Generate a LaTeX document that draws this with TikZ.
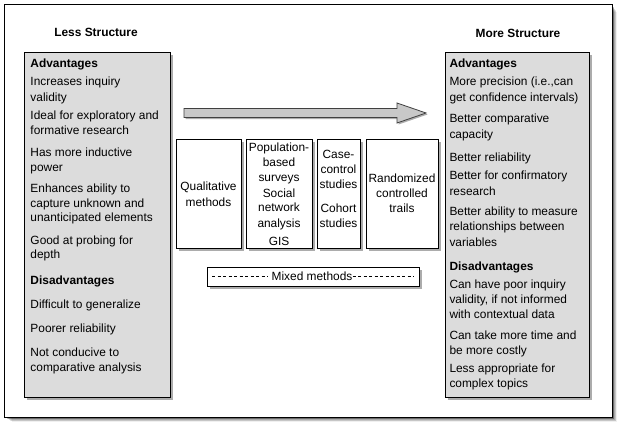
\documentclass[tikz,border=0pt]{standalone}
\usepackage{fontspec}
\setmainfont{Liberation Sans}
\usetikzlibrary{shadows}
\definecolor{boxfill}{RGB}{220,220,220}
\definecolor{shadowgray}{RGB}{172,172,172}
\definecolor{arrowfill}{RGB}{200,200,200}
\tikzset{
  txt/.style={font=\fontsize{11.9}{14}\selectfont, inner sep=0pt, anchor=base west},
  ctxt/.style={font=\fontsize{11.9}{14}\selectfont, inner sep=0pt, anchor=base},
  boxshadow/.style={drop shadow={shadow xshift=3pt, shadow yshift=-3pt, fill=shadowgray, opacity=1}},
  bigbox/.style={draw=black, line width=0.8pt, fill=boxfill, inner sep=0pt, boxshadow},
  methodbox/.style={draw=black, line width=0.8pt, fill=white, inner sep=0pt, boxshadow},
  frame/.style={draw=black, line width=0.8pt, fill=white, inner sep=0pt},
  mixdash/.style={line width=0.7pt, dash pattern=on 3.4pt off 2.1pt},
}
\begin{document}
\begin{tikzpicture}[x=1pt,y=-1pt]
\useasboundingbox (0,0) rectangle (625,431);
% outer frame shadow
\foreach \o/\op in {8/0.06,7/0.08,6/0.10,5/0.14,4/0.18,3/0.22,2/0.25}
  \fill[black, opacity=\op] (4+\o,4+\o) rectangle (612+\o*0.6,417+\o*0.6);
\node[frame, minimum width=608pt, minimum height=413pt] (frame) at (308,210.5) {};

% titles
\node[ctxt, font=\fontsize{11.9}{14}\selectfont\bfseries] (lesst) at (96,37) {Less Structure};
\node[ctxt, font=\fontsize{11.9}{14}\selectfont\bfseries] (moret) at (518,37.5) {More Structure};

% big boxes
\node[bigbox, minimum width=146pt, minimum height=345pt] (leftbox) at (97,224.5) {};
\node[bigbox, minimum width=144pt, minimum height=345pt] (rightbox) at (517,224.5) {};

% left texts
\foreach \yy/\tt [count=\i] in {
  67/{\textbf{Advantages}},
  85/{Increases inquiry},
  101/{validity},
  119/{Ideal for exploratory and},
  134/{formative research},
  156/{Has more inductive},
  171/{power},
  192/{Enhances ability to},
  207/{capture unknown and},
  221/{unanticipated elements},
  244/{Good at probing for},
  258/{depth},
  284/{\textbf{Disadvantages}},
  308/{Difficult to generalize},
  332/{Poorer reliability},
  356/{Not conducive to},
  371/{comparative analysis}}
  \node[txt] (l\i) at (30.3,\yy) {\tt};

% right texts
\foreach \yy/\tt [count=\i] in {
  67/{\textbf{Advantages}},
  85/{More precision (i.e.,can},
  101/{get confidence intervals)},
  122/{Better comparative},
  138/{capacity},
  161/{Better reliability},
  179/{Better for confirmatory},
  195/{research},
  215/{Better ability to measure},
  230/{relationships between},
  246/{variables},
  270/{\textbf{Disadvantages}},
  288/{Can have poor inquiry},
  303/{validity, if not informed},
  318/{with contextual data},
  339/{Can take more time and},
  354/{be more costly},
  372/{Less appropriate for},
  387/{complex topics}}
  \node[txt] (r\i) at (449.3,\yy) {\tt};

% arrow
\fill[shadowgray] (185.5,110) -- (398.5,110) -- (398.5,104.5) -- (427.5,114.5) -- (398.5,124.5) -- (398.5,119) -- (185.5,119) -- cycle;
\draw[line width=0.8pt, fill=arrowfill, draw=black!75] (184,108.5) -- (397,108.5) -- (397,103) -- (426,113) -- (397,123) -- (397,117.5) -- (184,117.5) -- cycle;

% method boxes
\node[methodbox, minimum width=65pt, minimum height=109pt] (m1) at (208.5,193.5) {};
\node[methodbox, minimum width=66pt, minimum height=109pt] (m2) at (279,193.5) {};
\node[methodbox, minimum width=43pt, minimum height=109pt] (m3) at (338.5,193.5) {};
\node[methodbox, minimum width=72pt, minimum height=109pt] (m4) at (402,193.5) {};

\foreach \yy/\tt [count=\i] in {190/Qualitative, 206/methods}
  \node[ctxt] (ma\i) at (208.5,\yy) {\tt};
\foreach \yy/\tt [count=\i] in {151/Population-, 166/based, 181/surveys, 197/Social, 211/network, 227/analysis, 245/GIS}
  \node[ctxt] (mb\i) at (279,\yy) {\tt};
\foreach \yy/\tt [count=\i] in {158/Case-, 173/control, 188/studies, 212/Cohort, 227/studies}
  \node[ctxt] (mc\i) at (338.5,\yy) {\tt};
\foreach \yy/\tt [count=\i] in {182/Randomized, 197/controlled, 212/trails}
  \node[ctxt] (md\i) at (402,\yy) {\tt};

% mixed methods
\node[methodbox, minimum width=212pt, minimum height=19pt] (mixed) at (313,276.5) {};
\node[ctxt] (mixedt) at (312,280) {Mixed methods};
\coordinate (dl1) at (212,276.8);
\coordinate (dr2) at (414,276.8);
\path (mixedt.west |- dl1) ++(-3,0) coordinate (dl2);
\path (mixedt.east |- dr2) coordinate (dr1);
\draw[mixdash] (dl1) -- (dl2);
\draw[mixdash] (dr1) -- (dr2);
\end{tikzpicture}
\end{document}
